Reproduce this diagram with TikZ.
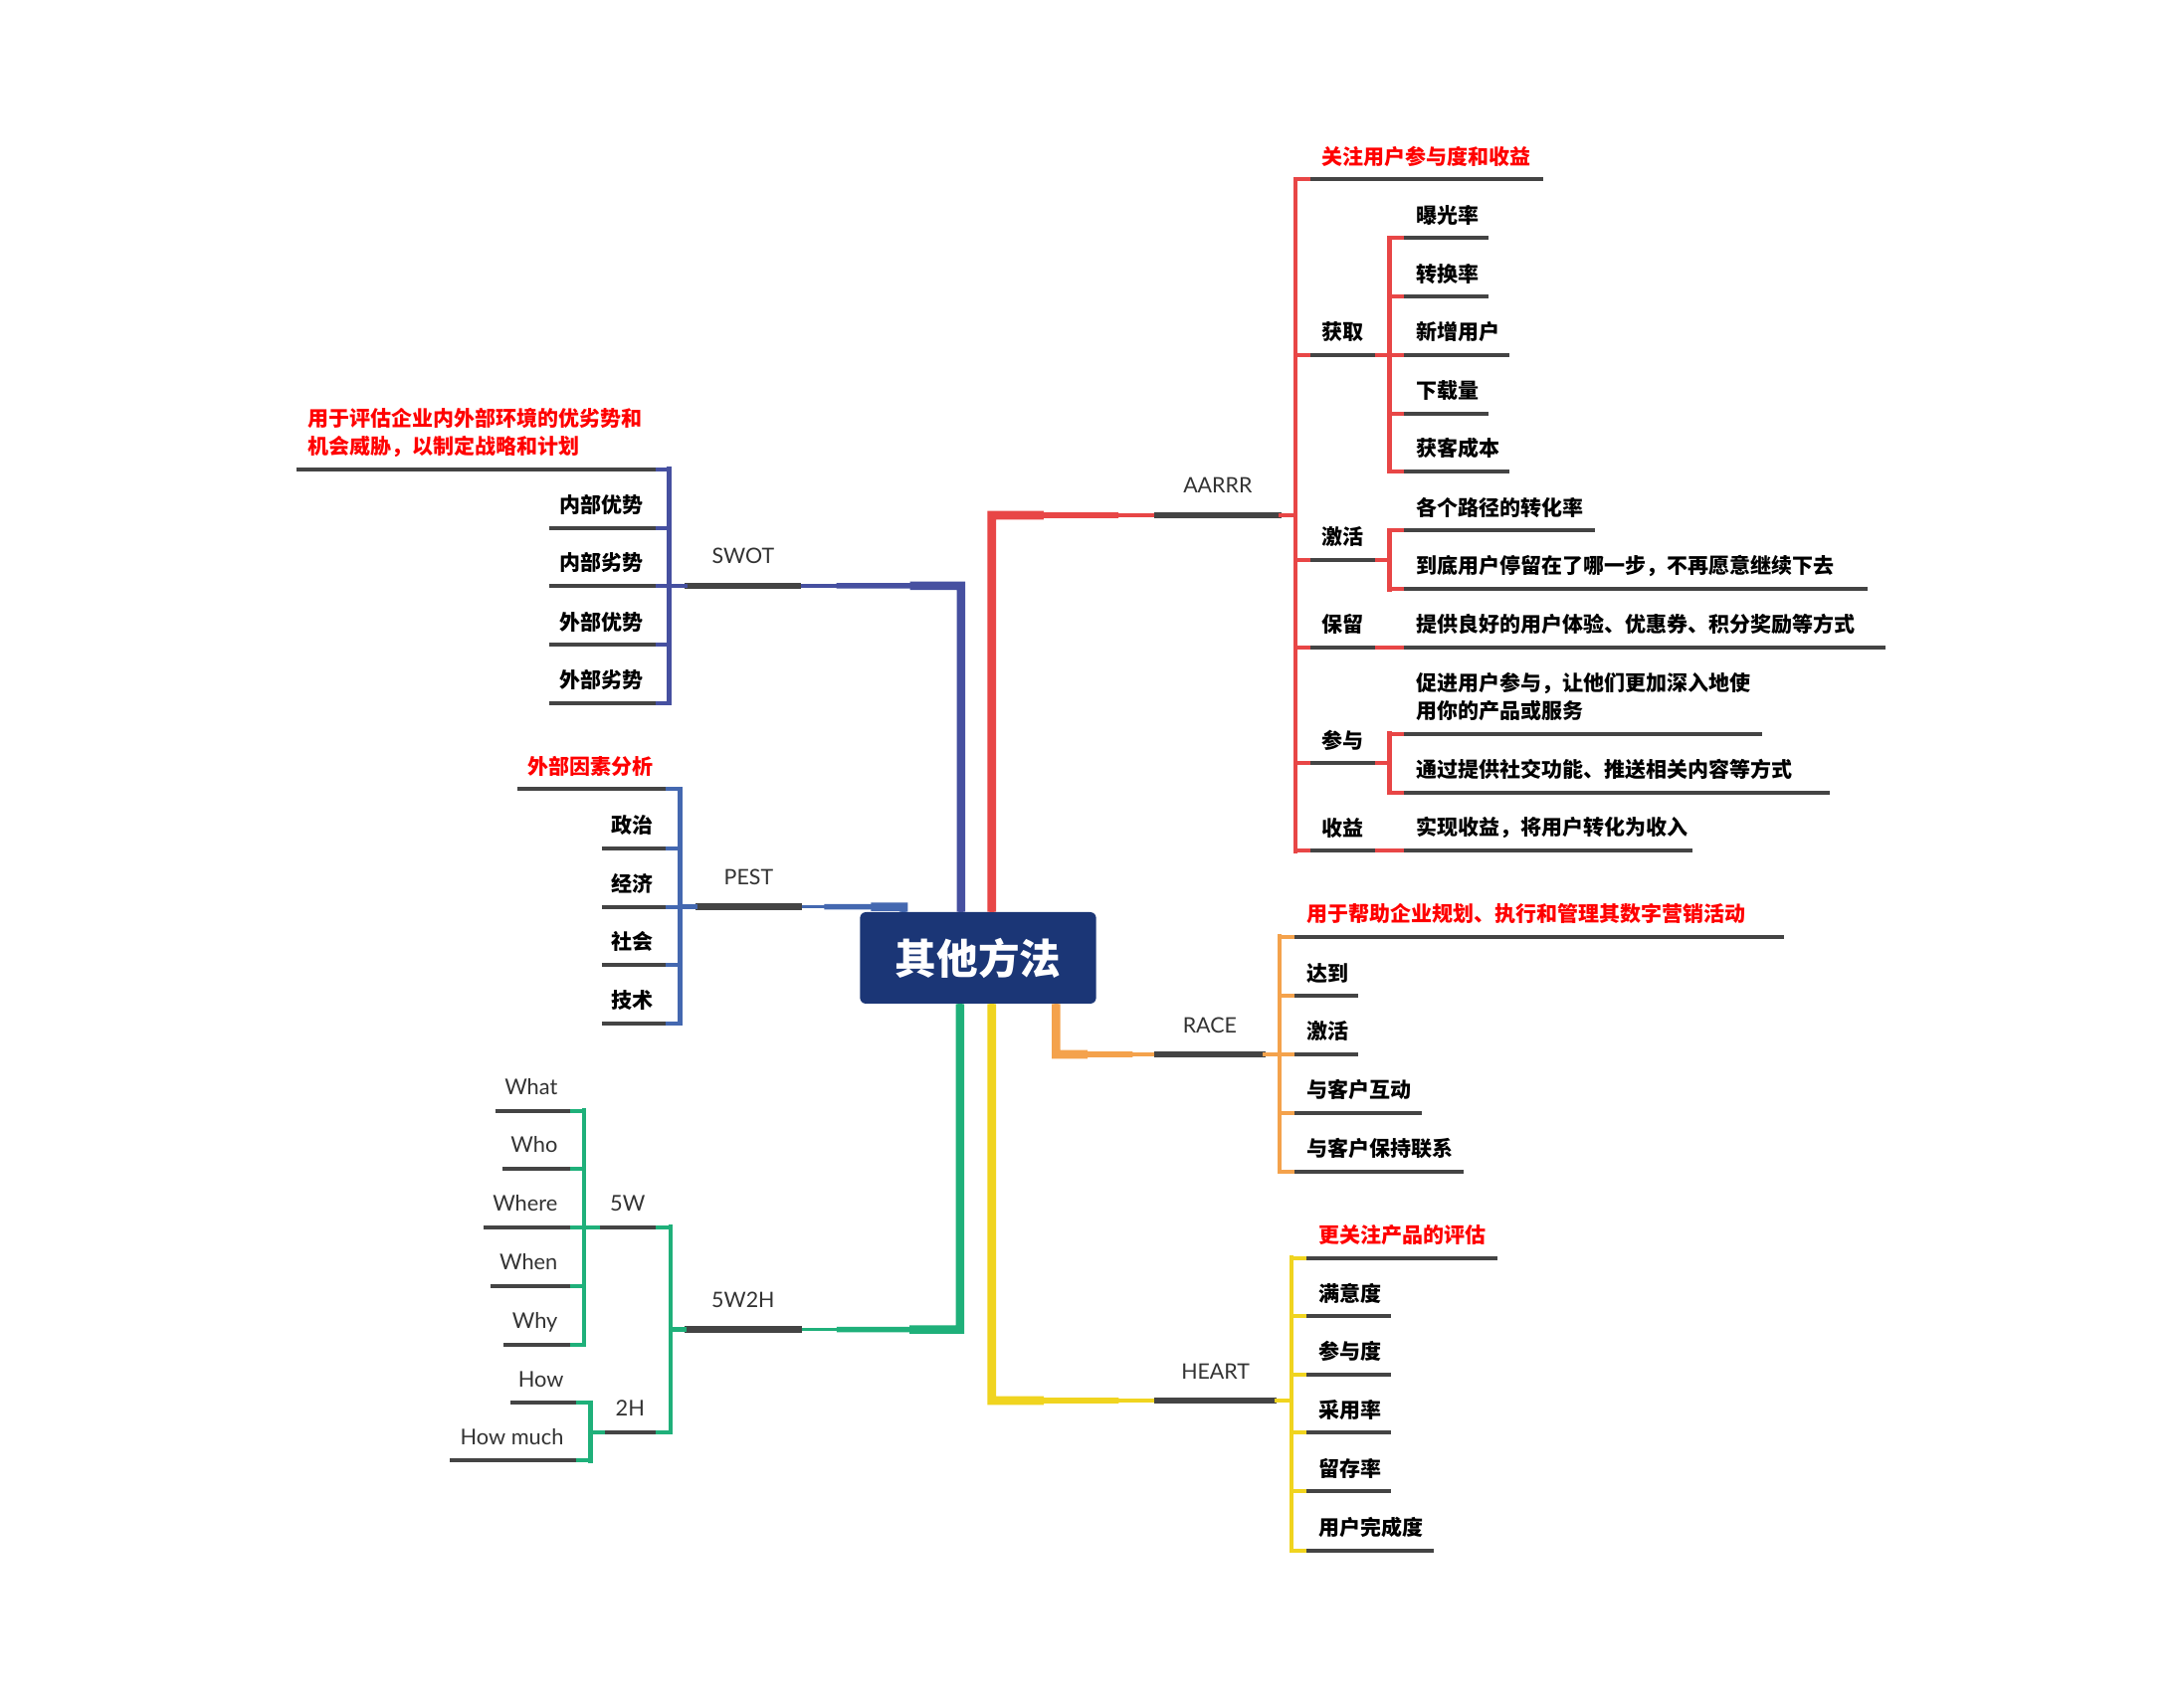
\documentclass[tikz,border=0pt]{standalone}
\usepackage{fontspec}
\setmainfont{Noto Sans CJK SC}
\newfontfamily\lat{Lato}
\usetikzlibrary{calc}
\definecolor{ulc}{HTML}{444444}
\definecolor{cR}{HTML}{E84646}
\definecolor{cSW}{HTML}{4650A0}
\definecolor{cPE}{HTML}{4468B0}
\definecolor{cG}{HTML}{1FB07A}
\definecolor{cO}{HTML}{F4A24C}
\definecolor{cY}{HTML}{F0D41F}
\definecolor{boxc}{HTML}{1B3676}
\definecolor{lblc}{HTML}{333333}
\definecolor{ttl}{HTML}{FF0000}
\tikzset{
  ul/.style={draw=ulc, line width=2pt},
  ulone/.style={draw=ulc, line width=3.4pt},
  stub/.style={line width=2pt},
  vline/.style={line width=2.4pt, line cap=rect},
  zh/.style={inner sep=0, font=\fontsize{10.5pt}{14.1pt}\selectfont\bfseries},
  zhred/.style={zh, text=ttl},
  en/.style={inner sep=0, text=lblc, font=\lat\fontsize{10.9pt}{12pt}\selectfont},
  enone/.style={inner sep=0, text=lblc, font=\lat\fontsize{10.7pt}{12pt}\selectfont},
  rootbox/.style={fill=boxc, rounded corners=3pt, minimum width=118.7pt, minimum height=46pt, inner sep=0, text=white, font=\fontsize{20.8pt}{21pt}\selectfont\bfseries},
}
\newcommand\rleaf[6]{%
  \coordinate (#1-l) at (#4,#6);
  \coordinate (#1-r) at (#5,#6);
  \draw[ul] (#1-l) -- (#1-r);
  \node[#2, anchor=west] (#1) at ($(#1-l)+(8.4,-16.5)$) {#3};}
\newcommand\lleaf[6]{%
  \coordinate (#1-l) at (#4,#6);
  \coordinate (#1-r) at (#5,#6);
  \draw[ul] (#1-l) -- (#1-r);
  \node[#2, anchor=east] (#1) at ($(#1-r)+(-8.6,-16.5)$) {#3};}
\newcommand\eleaf[5]{%
  \coordinate (#1-l) at (#3,#5);
  \coordinate (#1-r) at (#4,#5);
  \draw[ul] (#1-l) -- (#1-r);
  \node[en, anchor=base east] (#1) at ($(#1-r)+(-8.6,-11.6)$) {#2};}
\newcommand\topic[5]{%
  \coordinate (#1-l) at (#3,#5);
  \coordinate (#1-r) at (#4,#5);
  \draw[ulone] (#1-l) -- (#1-r);
  \node[enone, anchor=base] (#1) at ($(#1-l)!0.5!(#1-r)+(0,-15.7)$) {#2};}
\newcommand\subtopic[5]{%
  \coordinate (#1-l) at (#3,#5);
  \coordinate (#1-r) at (#4,#5);
  \draw[ul] (#1-l) -- (#1-r);
  \node[en, anchor=base] (#1) at ($(#1-l)!0.5!(#1-r)+(0,-11.4)$) {#2};}
\newcommand\mainconn[4]{%
  \draw[#1, line width=1.8pt] (#2) -- (#3) -- (#4);
  \draw[#1, line width=2.8pt] (#2) -- (#3) -- ($(#3)!0.78!(#4)$);
  \draw[#1, line width=4.3pt] (#2) -- (#3) -- ($(#3)!0.32!(#4)$);}
\begin{document}
\begin{tikzpicture}[x=0.7pt,y=-0.7pt]
\fill[white] (0,0) rectangle (1568,1214);
\useasboundingbox (0,0) rectangle (1568,1214);

\node[rootbox] (root) at (702.2,687.9) {其他方法};

% ---------------- AARRR ----------------
\topic{AARRR}{AARRR}{828.6}{919.9}{370}
\coordinate (aV) at (712,370);
\mainconn{cR}{root.north -| aV}{aV}{AARRR-l}
\rleaf{aT}{zhred}{关注用户参与度和收益}{940.6}{1107.9}{128.8}
\rleaf{huo}{zh}{获取}{940.6}{987.3}{255}
\rleaf{bg}{zh}{曝光率}{1008}{1069}{171}
\rleaf{zhl}{zh}{转换率}{1008}{1069}{213}
\rleaf{xz}{zh}{新增用户}{1008}{1084}{255}
\rleaf{xzl}{zh}{下载量}{1008}{1069}{297}
\rleaf{hk}{zh}{获客成本}{1008}{1084}{338.6}
\rleaf{ji}{zh}{激活}{940.6}{987.3}{402}
\rleaf{gg}{zh}{各个路径的转化率}{1008}{1145}{381}
\rleaf{dd}{zh}{到底用户停留在了哪一步，不再愿意继续下去}{1008}{1341}{423}
\rleaf{bao}{zh}{保留}{940.6}{987.3}{464.8}
\rleaf{tg}{zh}{提供良好的用户体验、优惠券、积分奖励等方式}{1008}{1354}{464.8}
\rleaf{can}{zh}{参与}{940.6}{987.3}{548}
\coordinate (cj-l) at (1008,527);
\coordinate (cj-r) at (1265,527);
\draw[ul] (cj-l) -- (cj-r);
\node[zh, anchor=west, align=left] (cj) at ($(cj-l)+(8.4,-26.4)$) {促进用户参与，让他们更加深入地使\\用你的产品或服务};
\rleaf{tgt}{zh}{通过提供社交功能、推送相关内容等方式}{1008}{1314}{569}
\rleaf{shou}{zh}{收益}{940.6}{987.3}{611}
\rleaf{sx}{zh}{实现收益，将用户转化为收入}{1008}{1215}{611}

\coordinate (aB) at (930,370);
\draw[cR, vline] (AARRR-r) -- (aB);
\draw[cR, vline] (aT-l -| aB) -- (shou-l -| aB);
\foreach \n in {aT,huo,ji,bao,can,shou} \draw[cR, stub] (\n-l -| aB) -- (\n-l);
\coordinate (huoB) at (997.4,255);
\draw[cR, stub] (huo-r) -- (huoB);
\draw[cR, vline] (bg-l -| huoB) -- (hk-l -| huoB);
\foreach \n in {bg,zhl,xz,xzl,hk} \draw[cR, stub] (\n-l -| huoB) -- (\n-l);
\coordinate (jiB) at (997.4,402);
\draw[cR, stub] (ji-r) -- (jiB);
\draw[cR, vline] (gg-l -| jiB) -- (dd-l -| jiB);
\foreach \n in {gg,dd} \draw[cR, stub] (\n-l -| jiB) -- (\n-l);
\draw[cR, stub] (bao-r) -- (tg-l);
\coordinate (canB) at (997.4,548);
\draw[cR, stub] (can-r) -- (canB);
\draw[cR, vline] (cj-l -| canB) -- (tgt-l -| canB);
\foreach \n in {cj,tgt} \draw[cR, stub] (\n-l -| canB) -- (\n-l);
\draw[cR, stub] (shou-r) -- (sx-l);

% ---------------- SWOT ----------------
\topic{SWOT}{SWOT}{491.8}{575.3}{420.7}
\coordinate (sV) at (690,420.7);
\mainconn{cSW}{root.north -| sV}{sV}{SWOT-r}
\coordinate (sT-l) at (212.8,337);
\coordinate (sT-r) at (471,337);
\draw[ul] (sT-l) -- (sT-r);
\node[zhred, anchor=west, align=left] (sT) at (221,310.5) {用于评估企业内外部环境的优劣势和\\机会威胁，以制定战略和计划};
\lleaf{nbys}{zh}{内部优势}{394}{471}{379}
\lleaf{nbls}{zh}{内部劣势}{394}{471}{420.7}
\lleaf{wbys}{zh}{外部优势}{394}{471}{463}
\lleaf{wbls}{zh}{外部劣势}{394}{471}{504.8}
\coordinate (sB) at (480.6,420.7);
\draw[cSW, vline] (SWOT-l) -- (sB);
\draw[cSW, vline] (sT-r -| sB) -- (wbls-r -| sB);
\foreach \n in {sT,nbys,nbls,wbys,wbls} \draw[cSW, stub] (\n-r) -- (\n-r -| sB);

% ---------------- PEST ----------------
\topic{PEST}{PEST}{499.3}{575.7}{651.2}
\coordinate (pV) at (648.7,651.2);
\mainconn{cPE}{root.north -| pV}{pV}{PEST-r}
\lleaf{pT}{zhred}{外部因素分析}{371.4}{478}{566.7}
\lleaf{zz}{zh}{政治}{432}{478}{609}
\lleaf{jj}{zh}{经济}{432}{478}{651.2}
\lleaf{shh}{zh}{社会}{432}{478}{692.9}
\lleaf{js}{zh}{技术}{432}{478}{735}
\coordinate (pB) at (488.4,651.2);
\draw[cPE, vline] (PEST-l) -- (pB);
\draw[cPE, vline] (pT-r -| pB) -- (js-r -| pB);
\foreach \n in {pT,zz,jj,shh,js} \draw[cPE, stub] (\n-r) -- (\n-r -| pB);

% ---------------- 5W2H ----------------
\topic{FWTH}{5W2H}{491.3}{575.7}{954.8}
\coordinate (gV) at (689.3,954.8);
\mainconn{cG}{root.south -| gV}{gV}{FWTH-r}
\subtopic{FW}{5W}{430.4}{470.7}{881.2}
\subtopic{TH}{2H}{434.2}{470.7}{1028.3}
\coordinate (gB) at (481.4,954.8);
\draw[cG, vline] (FWTH-l) -- (gB);
\draw[cG, vline] (FW-r -| gB) -- (TH-r -| gB);
\foreach \n in {FW,TH} \draw[cG, stub] (\n-r) -- (\n-r -| gB);
\eleaf{what}{What}{355.6}{409.2}{797.6}
\eleaf{who}{Who}{360.7}{409.2}{839}
\eleaf{where}{Where}{347}{409.2}{881.2}
\eleaf{when}{When}{352}{409.2}{923.3}
\eleaf{why}{Why}{361.4}{409.2}{965.5}
\coordinate (fwB) at (419.3,881.2);
\draw[cG, stub] (FW-l) -- (fwB);
\draw[cG, vline] (what-r -| fwB) -- (why-r -| fwB);
\foreach \n in {what,who,where,when,why} \draw[cG, stub] (\n-r) -- (\n-r -| fwB);
\eleaf{how}{How}{366.4}{413.5}{1007.4}
\eleaf{hm}{How much}{322.9}{413.5}{1049}
\coordinate (thB) at (424,1028.3);
\draw[cG, stub] (TH-l) -- (thB);
\draw[cG, vline] (how-r -| thB) -- (hm-r -| thB);
\foreach \n in {how,hm} \draw[cG, stub] (\n-r) -- (\n-r -| thB);

% ---------------- RACE ----------------
\topic{RACE}{RACE}{828.8}{908.3}{757.2}
\coordinate (oV) at (758.2,757.2);
\mainconn{cO}{root.south -| oV}{oV}{RACE-l}
\rleaf{rT}{zhred}{用于帮助企业规划、执行和管理其数字营销活动}{929.3}{1280.8}{672.8}
\rleaf{dao}{zh}{达到}{929.3}{975.3}{715.3}
\rleaf{jh}{zh}{激活}{929.3}{975.3}{757.2}
\rleaf{hd}{zh}{与客户互动}{929.3}{1021}{799}
\rleaf{bc}{zh}{与客户保持联系}{929.3}{1051}{841.3}
\coordinate (oB) at (918.6,757.2);
\draw[cO, vline] (RACE-r) -- (oB);
\draw[cO, vline] (rT-l -| oB) -- (bc-l -| oB);
\foreach \n in {rT,dao,jh,hd,bc} \draw[cO, stub] (\n-l -| oB) -- (\n-l);

% ---------------- HEART ----------------
\topic{HEART}{HEART}{828.8}{916.5}{1005.8}
\coordinate (yV) at (712,1005.8);
\mainconn{cY}{root.south -| yV}{yV}{HEART-l}
\rleaf{hT}{zhred}{更关注产品的评估}{937.9}{1074.8}{903.4}
\rleaf{my}{zh}{满意度}{937.9}{999}{945.2}
\rleaf{cy}{zh}{参与度}{937.9}{999}{987}
\rleaf{cyl}{zh}{采用率}{937.9}{999}{1029}
\rleaf{lc}{zh}{留存率}{937.9}{999}{1071}
\rleaf{wc}{zh}{用户完成度}{937.9}{1029.3}{1113.3}
\coordinate (yB) at (927.2,1005.8);
\draw[cY, vline] (HEART-r) -- (yB);
\draw[cY, vline] (hT-l -| yB) -- (wc-l -| yB);
\foreach \n in {hT,my,cy,cyl,lc,wc} \draw[cY, stub] (\n-l -| yB) -- (\n-l);
\end{tikzpicture}
\end{document}
